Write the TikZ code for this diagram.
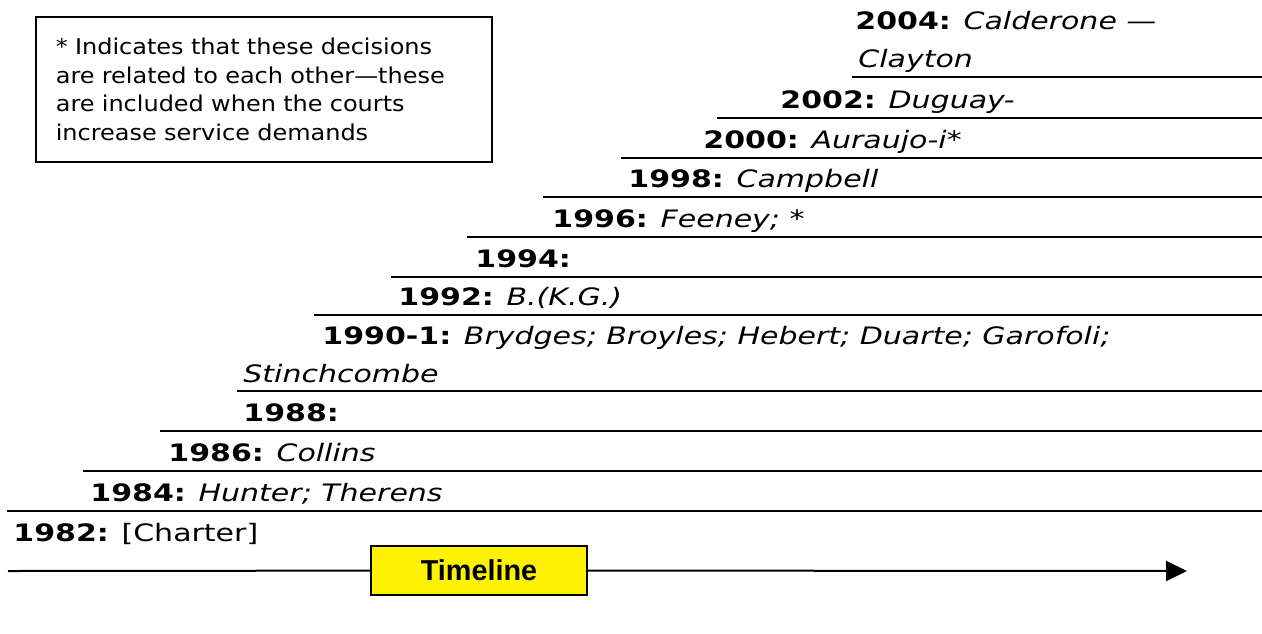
\documentclass[tikz,border=0pt]{standalone}
\usepackage{fontspec}
\setmainfont{DejaVu Sans}[FakeStretch=1.25]
\newfontfamily\notefont{DejaVu Sans}[FakeStretch=1.1]
\newfontfamily\arialfont{Liberation Sans}
\usetikzlibrary{arrows.meta}

\begin{document}
\begin{tikzpicture}[x=.5pt,y=-.5pt,
    rule/.style={line width=1pt},
    yr/.style={anchor=base west,inner sep=0pt,font=\fontsize{12}{14}\selectfont}]
  \useasboundingbox (0,0) rectangle (1262,633);
  % note box
  \node[draw,line width=.8pt,anchor=north west,minimum height=72.5pt,text width=208pt,
    inner xsep=10pt,align=left,font=\notefont\fontsize{10.9}{14.35}\selectfont] (note) at (35,16)
    {* Indicates that these decisions\\are related to each other—these\\are included when the courts\\increase service demands};
  % years, newest on top
  \node[yr] (y2004) at (855,29) {\textbf{2004:} \textit{Calderone —}};
  \node[yr] (y2004b) at (858,67) {\textit{Clayton}};
  \draw[rule] (852,77) -- (1262,77);
  \node[yr] (y2002) at (780,108) {\textbf{2002:} \textit{Duguay-}};
  \draw[rule] (717,118) -- (1262,118);
  \node[yr] (y2000) at (703,148) {\textbf{2000:} \textit{Auraujo-i*}};
  \draw[rule] (621,158) -- (1262,158);
  \node[yr] (y1998) at (628,187) {\textbf{1998:} \textit{Campbell}};
  \draw[rule] (543,197) -- (1262,197);
  \node[yr] (y1996) at (552,227) {\textbf{1996:} \textit{Feeney; *}};
  \draw[rule] (467,237) -- (1262,237);
  \node[yr] (y1994) at (475,267) {\textbf{1994:}};
  \draw[rule] (391,277) -- (1262,277);
  \node[yr] (y1992) at (398,305) {\textbf{1992:} \textit{B.(K.G.)}};
  \draw[rule] (314,315) -- (1262,315);
  \node[yr] (y1990) at (322,344) {\textbf{1990-1:} \textit{Brydges; Broyles; Hebert; Duarte; Garofoli;}};
  \node[yr] (y1990b) at (243,382) {\textit{Stinchcombe}};
  \draw[rule] (237,391) -- (1262,391);
  \node[yr] (y1988) at (243,421) {\textbf{1988:}};
  \draw[rule] (160,431) -- (1262,431);
  \node[yr] (y1986) at (168,461) {\textbf{1986:} \textit{Collins}};
  \draw[rule] (83,471) -- (1262,471);
  \node[yr] (y1984) at (90,501) {\textbf{1984:} \textit{Hunter; Therens}};
  \draw[rule] (7,511) -- (1262,511);
  \node[yr] (y1982) at (13,541) {\textbf{1982:} [Charter]};
  % the arrow
  \node[draw,line width=1pt,fill=yellow,minimum width=108pt,minimum height=24.5pt,
    font=\arialfont\bfseries\fontsize{14.4}{16}\selectfont] (tl) at (479,570.5) {Timeline};
  \coordinate (tlstart) at (8,571);
  \coordinate (tlend) at (1187,571);
  \draw[rule] (tlstart) -- (tl);
  \draw[rule,-{Triangle[length=10.5pt,width=10pt]}] (tl) -- (tlend);
\end{tikzpicture}
\end{document}
